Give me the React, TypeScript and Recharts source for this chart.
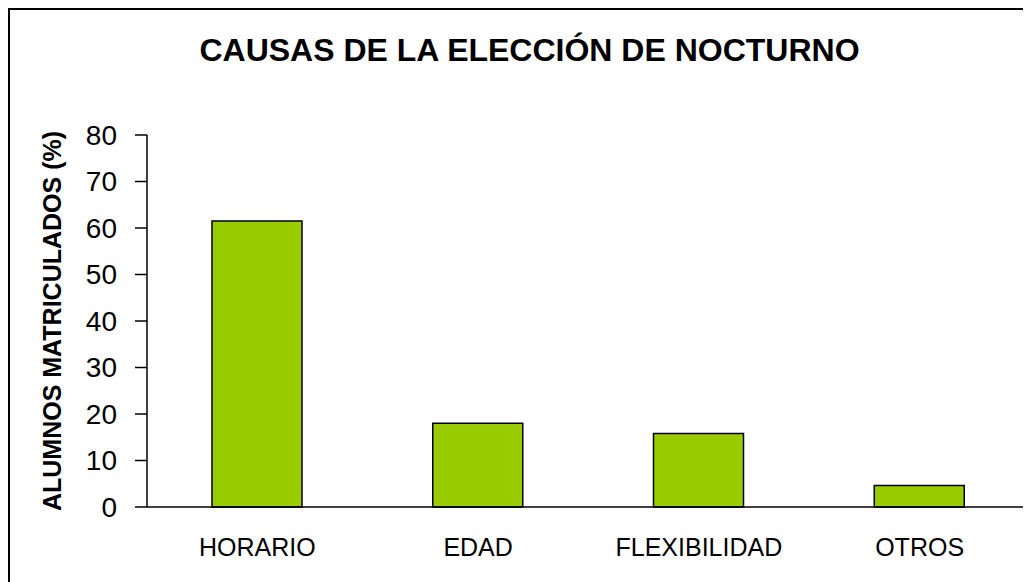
import React from "react"
import { BarChart, Bar, XAxis, YAxis } from "recharts"

const causas = ["HORARIO", "EDAD", "FLEXIBILIDAD", "OTROS"]
const porcentajes = [61.5, 18.0, 15.8, 4.6]
const yTicks = [0, 10, 20, 30, 40, 50, 60, 70, 80]

const data = causas.map((c, i) => ({ causa: c, valor: porcentajes[i] }))

const font = "'Liberation Sans', Arial, sans-serif"

export default function App() {
  return (
    <div
      style={{
        position: "relative",
        width: 1021,
        height: 572,
        borderLeft: "2px solid #000",
        borderTop: "2px solid #000",
        fontFamily: font,
        background: "#fff",
      }}
    >
      <div
        style={{
          position: "absolute",
          left: 0,
          width: 1039,
          top: 24,
          textAlign: "center",
          fontSize: 32,
          lineHeight: "32px",
          fontWeight: "bold",
          color: "#000",
        }}
      >
        CAUSAS DE LA ELECCIÓN DE NOCTURNO
      </div>
      <div
        style={{
          position: "absolute",
          left: 42,
          top: 311,
          transform: "translate(-50%, -50%) rotate(-90deg)",
          whiteSpace: "nowrap",
          fontSize: 25,
          fontWeight: "bold",
          color: "#000",
        }}
      >
        ALUMNOS MATRICULADOS (%)
      </div>
      <BarChart
        width={1021}
        height={572}
        data={data}
        margin={{ top: 125, right: 1, bottom: 0, left: 0 }}
        style={{ position: "absolute", left: 0, top: 0 }}
      >
        <XAxis
          dataKey="causa"
          height={75}
          tickLine={false}
          tickSize={0}
          tickMargin={31}
          axisLine={{ stroke: "#000", strokeWidth: 1.5 }}
          tick={{ fill: "#000", fontSize: 25, fontFamily: font }}
          interval={0}
        />
        <YAxis
          width={137}
          domain={[0, 80]}
          ticks={yTicks}
          interval={0}
          tickSize={12}
          tickMargin={18}
          axisLine={{ stroke: "#000", strokeWidth: 1.5 }}
          tickLine={{ stroke: "#000", strokeWidth: 1.5 }}
          tick={{ fill: "#000", fontSize: 28, fontFamily: font }}
        />
        <Bar
          dataKey="valor"
          fill="#99CC00"
          stroke="#000"
          strokeWidth={1.5}
          barSize={90}
          isAnimationActive={false}
        />
      </BarChart>
    </div>
  )
}
